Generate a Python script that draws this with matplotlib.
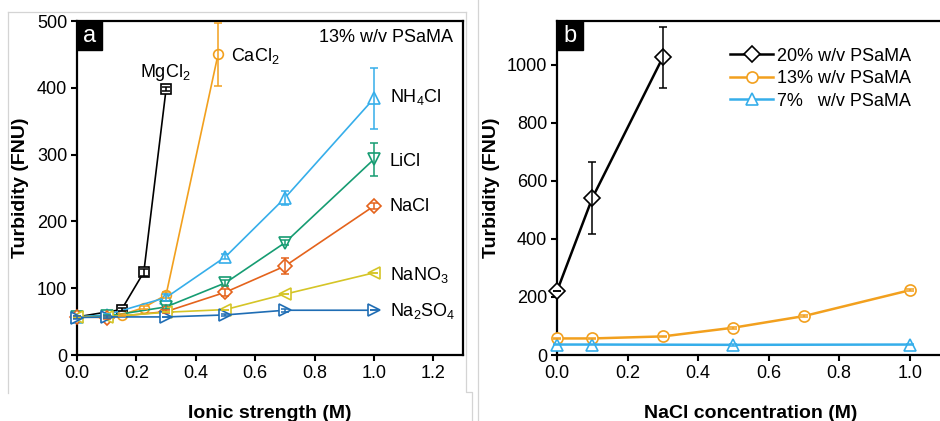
import matplotlib
matplotlib.use("Agg")
import matplotlib.pyplot as plt
from matplotlib.lines import Line2D
from matplotlib.patches import Rectangle

plt.rcParams["font.family"] = ["Liberation Sans", "DejaVu Sans"]
plt.rcParams["mathtext.default"] = "regular"

# -------------------------
# Panel a: 13% w/v PSaMA, different salts
# -------------------------
mg_x = [0.0, 0.15, 0.225, 0.3]
mg_y = [57, 68, 124, 398]
mg_e = [0, 2, 5, 3]

ca_x = [0.0, 0.15, 0.225, 0.3, 0.475]
ca_y = [57, 60, 71, 90, 450]
ca_e = [2, 2, 2, 4, 47]

nh4_x = [0.0, 0.1, 0.3, 0.5, 0.7, 1.0]
nh4_y = [57, 60, 86, 147, 235, 384]
nh4_e = [2, 2, 5, 4, 10, 45]

li_x = [0.0, 0.1, 0.3, 0.5, 0.7, 1.0]
li_y = [57, 58, 72, 108, 168, 293]
li_e = [2, 2, 3, 4, 4, 25]

nacl_x = [0.0, 0.1, 0.3, 0.5, 0.7, 1.0]
nacl_y = [57, 56, 65, 94, 133, 223]
nacl_e = [2, 2, 2, 5, 12, 4]

nano3_x = [0.0, 0.1, 0.3, 0.5, 0.7, 1.0]
nano3_y = [57, 57, 64, 68, 91, 123]
nano3_e = [0, 0, 0, 0, 0, 0]

so4_x = [0.0, 0.1, 0.3, 0.5, 0.7, 1.0]
so4_y = [56, 57, 57, 60, 67, 67]
so4_e = [2, 2, 0, 2, 2, 0]

# -------------------------
# Panel b: NaCl at three polymer concentrations
# -------------------------
p20_x = [0.0, 0.1, 0.3]
p20_y = [220, 540, 1025]
p20_e = [0, 125, 105]

p13_x = [0.0, 0.1, 0.3, 0.5, 0.7, 1.0]
p13_y = [57, 57, 64, 94, 134, 223]
p13_e = [3, 3, 3, 4, 3, 4]

p7_x = [0.0, 0.1, 0.5, 1.0]
p7_y = [36, 36, 35, 36]
p7_e = [3, 3, 3, 3]

FS = 13

fig = plt.figure(figsize=(9.40, 4.21), dpi=100)


def draw_series(ax, x, y, err, color, marker, lw=1.2, ms=7):
    ax.plot(x, y, color=color, lw=lw, marker=marker, ms=ms, mfc="white",
            mec=color, mew=1.2, zorder=3, clip_on=False)
    ax.errorbar(x, y, yerr=err, fmt="none", ecolor=color, elinewidth=1.1,
                capsize=3, capthick=1.1, zorder=4, clip_on=False)


def style_axes(ax):
    for s in ax.spines.values():
        s.set_linewidth(1.6)
    ax.tick_params(direction="out", length=4, width=1.5, labelsize=FS, pad=3)


def panel_tag(ax, letter):
    ax.add_patch(Rectangle((0, 1), 0.066, -0.087, transform=ax.transAxes,
                           color="black", zorder=6, clip_on=False))
    ax.text(0.033, 1 - 0.045, letter, transform=ax.transAxes, color="white",
            fontsize=17, ha="center", va="center", zorder=7)


# ---- panel a ----
ax1 = fig.add_axes([77 / 940, 66 / 421, 386 / 940, 334 / 421])
draw_series(ax1, mg_x, mg_y, mg_e, "black", "s", ms=6.5)
draw_series(ax1, ca_x, ca_y, ca_e, "#F2A01E", "o")
draw_series(ax1, nh4_x, nh4_y, nh4_e, "#36AEEA", "^", ms=8.5)
draw_series(ax1, li_x, li_y, li_e, "#169C72", "v", ms=8.5)
draw_series(ax1, nacl_x, nacl_y, nacl_e, "#E4631C", "D", ms=7)
draw_series(ax1, nano3_x, nano3_y, nano3_e, "#D5C527", "<", ms=8.5)
draw_series(ax1, so4_x, so4_y, so4_e, "#1F6DB4", ">", ms=8.5)

ax1.set_xlim(0, 1.3)
ax1.set_ylim(0, 500)
ax1.set_xticks([0.0, 0.2, 0.4, 0.6, 0.8, 1.0, 1.2])
ax1.set_xticklabels(["0.0", "0.2", "0.4", "0.6", "0.8", "1.0", "1.2"])
ax1.set_yticks([0, 100, 200, 300, 400, 500])
style_axes(ax1)
ax1.set_xlabel("Ionic strength (M)", fontsize=14, fontweight="bold", labelpad=17)
ax1.set_ylabel("Turbidity (FNU)", fontsize=14, fontweight="bold", labelpad=6)
panel_tag(ax1, "a")

ax1.text(1.268, 476, "13% w/v PSaMA", fontsize=FS, ha="right", va="center")
ax1.text(0.518, 447, "CaCl$_2$", fontsize=FS, va="center")
ax1.text(0.212, 423, "MgCl$_2$", fontsize=FS, va="center")
for label, yy in [("NH$_4$Cl", 386), ("LiCl", 290), ("NaCl", 222),
                  ("NaNO$_3$", 120), ("Na$_2$SO$_4$", 66)]:
    ax1.text(1.054, yy, label, fontsize=FS, va="center")

# ---- panel b ----
ax2 = fig.add_axes([557 / 940, 66 / 421, 388 / 940, 334 / 421])
draw_series(ax2, p20_x, p20_y, p20_e, "black", "D", lw=1.8, ms=8)
draw_series(ax2, p13_x, p13_y, p13_e, "#F2A01E", "o", lw=1.8, ms=8)
draw_series(ax2, p7_x, p7_y, p7_e, "#36AEEA", "^", lw=1.8, ms=8)

ax2.set_xlim(0, 1.1)
ax2.set_ylim(0, 1150)
ax2.set_xticks([0.0, 0.2, 0.4, 0.6, 0.8, 1.0])
ax2.set_xticklabels(["0.0", "0.2", "0.4", "0.6", "0.8", "1.0"])
ax2.set_yticks([0, 200, 400, 600, 800, 1000])
style_axes(ax2)
ax2.set_xlabel("NaCl concentration (M)", fontsize=14, fontweight="bold", labelpad=17)
ax2.set_ylabel("Turbidity (FNU)", fontsize=14, fontweight="bold", labelpad=5)
panel_tag(ax2, "b")

handles = [
    Line2D([], [], color="black", lw=1.8, marker="D", ms=8, mfc="white", mew=1.2),
    Line2D([], [], color="#F2A01E", lw=1.8, marker="o", ms=8, mfc="white", mew=1.2),
    Line2D([], [], color="#36AEEA", lw=1.8, marker="^", ms=8, mfc="white", mew=1.2),
]
ax2.legend(handles, ["20% w/v PSaMA", "13% w/v PSaMA", "7%   w/v PSaMA"],
           loc="upper left", bbox_to_anchor=(0.446, 0.92), frameon=False,
           fontsize=FS, handlelength=2.4, handletextpad=0.2, labelspacing=0.3,
           borderaxespad=0, borderpad=0)

# faint panel frame lines
gray = "#d4d4d4"
fig.add_artist(Line2D([8 / 940, 8 / 940], [1 - 12 / 421, 1 - 393 / 421], color=gray, lw=0.9))
fig.add_artist(Line2D([8 / 940, 466 / 940], [1 - 12 / 421, 1 - 12 / 421], color=gray, lw=0.9))
fig.add_artist(Line2D([466 / 940, 466 / 940, 472 / 940, 472 / 940],
                      [1 - 12 / 421, 1 - 392 / 421, 1 - 392 / 421, 0], color=gray, lw=0.9))
fig.add_artist(Line2D([478 / 940, 478 / 940], [1, 0], color=gray, lw=0.9))

fig.savefig("out.png", dpi=100)
